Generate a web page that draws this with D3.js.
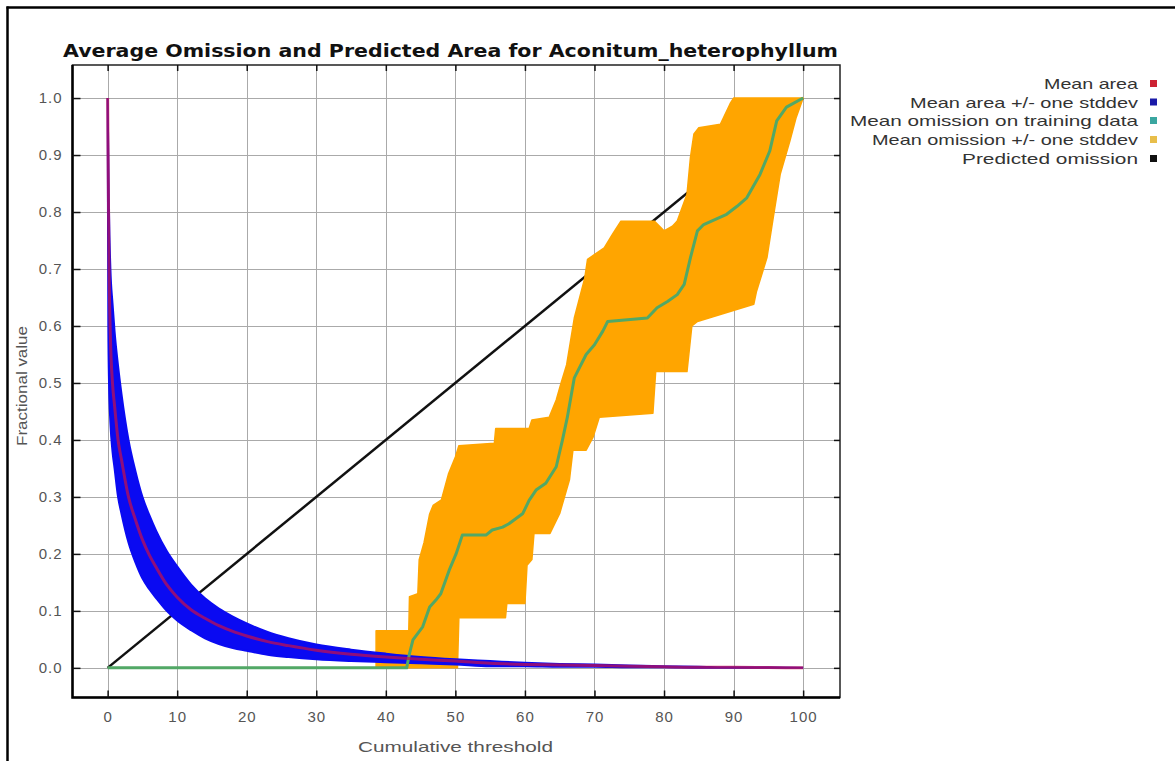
<!DOCTYPE html>
<html>
<head>
<meta charset="utf-8">
<script src="https://cdn.jsdelivr.net/npm/d3@7"></script>
<style>
  body { margin: 0; background: #fff; }
  svg { display: block; font-family: "Liberation Sans", Arial, sans-serif; }
</style>
</head>
<body>
<svg id="chart" width="1175" height="761"></svg>
<script>
// ---- chart text ----
const titleText = "Average Omission and Predicted Area for Aconitum_heterophyllum";
const xLabel = "Cumulative threshold";
const yLabel = "Fractional value";

// ---- tick values ----
const xTicks = [0, 10, 20, 30, 40, 50, 60, 70, 80, 90, 100];
const yTicks = [0, 0.1, 0.2, 0.3, 0.4, 0.5, 0.6, 0.7, 0.8, 0.9, 1.0];

// ---- mean predicted area and its +/- one stddev band ----
const areaX     = [0, 0.1, 0.2, 0.4, 0.7, 1, 1.5, 2, 3, 4, 5, 6, 7, 8.5, 10, 12, 14, 16, 18, 20, 23, 26, 30, 35, 40, 45, 50, 55, 60, 65, 70, 75, 80, 85, 90, 95, 100];
const areaMean  = [1.0, 0.85, 0.71, 0.58, 0.50, 0.46, 0.40, 0.365, 0.30, 0.26, 0.225, 0.198, 0.176, 0.146, 0.124, 0.102, 0.087, 0.074, 0.064, 0.056, 0.046, 0.039, 0.031, 0.024, 0.019, 0.015, 0.012, 0.008, 0.006, 0.005, 0.004, 0.003, 0.002, 0.001, 0.001, 0.0005, 0];
const areaUpper = [1.0, 0.90, 0.80, 0.70, 0.64, 0.59, 0.53, 0.48, 0.40, 0.345, 0.30, 0.268, 0.24, 0.205, 0.178, 0.146, 0.122, 0.104, 0.090, 0.078, 0.063, 0.052, 0.041, 0.032, 0.025, 0.019, 0.015, 0.012, 0.009, 0.007, 0.006, 0.004, 0.003, 0.002, 0.001, 0.001, 0];
const areaLower = [1.0, 0.60, 0.50, 0.43, 0.38, 0.35, 0.30, 0.27, 0.22, 0.185, 0.157, 0.138, 0.122, 0.10, 0.083, 0.066, 0.052, 0.042, 0.035, 0.030, 0.023, 0.019, 0.015, 0.012, 0.010, 0.008, 0.006, 0.003, 0.003, 0.002, 0.002, 0.001, 0.001, 0, 0, 0, 0];

// ---- mean omission on training data ----
const omissionX    = [0, 43.0, 43.4, 43.9, 45.3, 46.3, 47.2, 47.9, 49.1, 50.1, 51.0, 54.4, 55.3, 56.8, 57.7, 59.7, 60.6, 61.6, 63.0, 64.5, 65.4, 66.1, 67.1, 68.8, 70.0, 71.2, 71.9, 77.6, 79.0, 80.5, 81.9, 82.9, 83.8, 84.8, 85.7, 89.0, 90.5, 91.9, 93.8, 95.2, 96.2, 97.6, 100];
const omissionMean = [0, 0, 0.025, 0.049, 0.072, 0.107, 0.119, 0.13, 0.171, 0.20, 0.233, 0.233, 0.242, 0.247, 0.253, 0.271, 0.294, 0.312, 0.324, 0.353, 0.40, 0.44, 0.509, 0.55, 0.567, 0.591, 0.608, 0.614, 0.632, 0.643, 0.655, 0.673, 0.72, 0.767, 0.778, 0.796, 0.81, 0.825, 0.866, 0.907, 0.96, 0.984, 1.0];

// ---- mean omission +/- one stddev (upper and lower edges) ----
const omissionUpperX = [38.6, 43.3, 43.4, 44.6, 44.8, 45.5, 46.3, 46.8, 48.0, 49.0, 50.0, 50.5, 55.6, 55.8, 60.6, 61.0, 63.5, 64.5, 65.2, 66.0, 67.1, 68.6, 69.0, 71.4, 72.6, 73.8, 78.6, 80.0, 81.2, 81.9, 83.3, 83.8, 84.3, 85.0, 88.1, 89.5, 90.0, 100];
const omissionUpper  = [0.065, 0.065, 0.125, 0.13, 0.19, 0.22, 0.27, 0.285, 0.295, 0.34, 0.37, 0.39, 0.394, 0.42, 0.42, 0.435, 0.44, 0.47, 0.50, 0.532, 0.614, 0.684, 0.717, 0.737, 0.761, 0.784, 0.784, 0.767, 0.775, 0.784, 0.831, 0.896, 0.937, 0.948, 0.954, 0.99, 1.0, 1.0];
const omissionLowerX = [38.6, 50.3, 50.5, 57.2, 57.4, 60.0, 60.3, 61.0, 61.3, 63.6, 65.0, 66.4, 66.9, 68.8, 69.8, 70.7, 78.4, 78.8, 83.3, 84.0, 84.8, 92.9, 93.3, 94.8, 95.7, 96.7, 98.1, 99.0, 100];
const omissionLower  = [0, 0, 0.088, 0.088, 0.113, 0.113, 0.18, 0.19, 0.236, 0.236, 0.271, 0.33, 0.382, 0.382, 0.405, 0.44, 0.447, 0.52, 0.52, 0.60, 0.608, 0.638, 0.661, 0.72, 0.79, 0.866, 0.925, 0.966, 1.0];

// ---- predicted omission ----
const predictedX = [0, 100];
const predictedY = [0, 1];

// ---- legend ----
const legendLabels = ["Mean area", "Mean area +/- one stddev", "Mean omission on training data", "Mean omission +/- one stddev", "Predicted omission"];
const legendColors = ["#cc2233", "#1a1aa8", "#3aa6a0", "#e8be4a", "#111111"];

// ================= drawing =================
const svg = d3.select("#chart");
svg.append("rect").attr("width", 1175).attr("height", 761).attr("fill", "#fff");

// outer frame
svg.append("line").attr("x1", 7.5).attr("x2", 7.5).attr("y1", 6.5).attr("y2", 761)
  .attr("stroke", "#000").attr("stroke-width", 2.5);
svg.append("line").attr("x1", 6.5).attr("x2", 1175).attr("y1", 7.5).attr("y2", 7.5)
  .attr("stroke", "#000").attr("stroke-width", 2.5);

const plot = { left: 72.5, right: 840, top: 65, bottom: 697.5 };
const x = d3.scaleLinear().domain([-5.05, 105.3]).range([plot.left, plot.right]);
const y = d3.scaleLinear().domain([-0.052, 1.058]).range([plot.bottom, plot.top]);

// title
svg.append("text")
  .attr("x", 63).attr("y", 57)
  .attr("font-family", "'DejaVu Sans', sans-serif")
  .attr("font-weight", "bold").attr("font-size", 18)
  .attr("fill", "#111")
  .attr("textLength", 775).attr("lengthAdjust", "spacingAndGlyphs")
  .text(titleText);

// grid
const grid = svg.append("g").attr("stroke", "#aaaaaa").attr("stroke-width", 1);
grid.selectAll("line.gx").data(xTicks).join("line")
  .attr("x1", d => Math.round(x(d)) + 0.5).attr("x2", d => Math.round(x(d)) + 0.5)
  .attr("y1", plot.top).attr("y2", plot.bottom);
grid.selectAll("line.gy").data(yTicks).join("line")
  .attr("y1", d => Math.round(y(d)) + 0.5).attr("y2", d => Math.round(y(d)) + 0.5)
  .attr("x1", plot.left).attr("x2", plot.right);

svg.append("clipPath").attr("id", "plotClip").append("rect")
  .attr("x", plot.left).attr("y", plot.top)
  .attr("width", plot.right - plot.left).attr("height", plot.bottom - plot.top);
const layer = svg.append("g").attr("clip-path", "url(#plotClip)");

// predicted omission diagonal (drawn beneath the bands)
const lineXY = d3.line().x(d => x(d[0])).y(d => y(d[1]));
layer.append("path")
  .attr("d", lineXY(d3.zip(predictedX, predictedY)))
  .attr("fill", "none").attr("stroke", "#111").attr("stroke-width", 2.5);

// omission +/- stddev band
const omBandPts = d3.zip(omissionUpperX, omissionUpper)
  .concat(d3.zip(omissionLowerX, omissionLower).reverse());
layer.append("path")
  .attr("d", lineXY(omBandPts) + "Z")
  .attr("fill", "#ffa500").attr("stroke", "#ffa500").attr("stroke-width", 1.5)
  .attr("stroke-linejoin", "round");

// area +/- stddev band
const areaBand = d3.area()
  .x(d => x(d.t)).y0(d => y(d.lo)).y1(d => y(d.hi))
  .curve(d3.curveMonotoneX);
const areaRows = areaX.map((t, i) => ({ t, lo: areaLower[i], hi: areaUpper[i], m: areaMean[i] }));
layer.append("path")
  .attr("d", areaBand(areaRows))
  .attr("fill", "#0a0af2").attr("stroke", "#0a0af2").attr("stroke-width", 2);

// mean omission on training data
layer.append("path")
  .attr("d", lineXY(d3.zip(omissionX, omissionMean)))
  .attr("fill", "none").attr("stroke", "#52a866").attr("stroke-width", 3)
  .attr("stroke-linejoin", "round");

// mean area
const meanLine = d3.line().x(d => x(d.t)).y(d => y(d.m)).curve(d3.curveMonotoneX);
layer.append("path")
  .attr("d", meanLine(areaRows))
  .attr("fill", "none").attr("stroke", "#c4104c").attr("stroke-opacity", 0.72)
  .attr("stroke-width", 3);

// plot frame
svg.append("rect")
  .attr("x", plot.left).attr("y", plot.top)
  .attr("width", plot.right - plot.left).attr("height", plot.bottom - plot.top)
  .attr("fill", "none").attr("stroke", "#222").attr("stroke-width", 1.5);
svg.append("path")
  .attr("d", `M${plot.left},${plot.top}V${plot.bottom}H${plot.right}`)
  .attr("fill", "none").attr("stroke", "#000").attr("stroke-width", 2.5);

// axes (ticks point inward)
function styleAxis(g) {
  g.select(".domain").remove();
  g.selectAll(".tick line").attr("stroke", "#111").attr("stroke-width", 1.5);
  g.selectAll(".tick text").attr("fill", "#555").style("letter-spacing", "1px");
  g.attr("font-family", "'Liberation Sans', Arial, sans-serif").attr("font-size", 15);
}
svg.append("g").attr("transform", `translate(0,${plot.bottom})`)
  .call(d3.axisBottom(x).tickValues(xTicks).tickSize(-7).tickPadding(14).tickFormat(d3.format("d")))
  .call(styleAxis);
svg.append("g").attr("transform", `translate(${plot.left},0)`)
  .call(d3.axisLeft(y).tickValues(yTicks).tickSize(-8).tickPadding(10).tickFormat(d3.format(".1f")))
  .call(styleAxis);
svg.append("g").attr("transform", `translate(0,${plot.top})`)
  .call(d3.axisTop(x).tickValues(xTicks).tickSize(-6).tickFormat(() => ""))
  .call(styleAxis);
svg.append("g").attr("transform", `translate(${plot.right},0)`)
  .call(d3.axisRight(y).tickValues(yTicks).tickSize(-6).tickFormat(() => ""))
  .call(styleAxis);

// axis titles
svg.append("text")
  .attr("x", 455.5).attr("y", 752)
  .attr("text-anchor", "middle").attr("font-size", 15).attr("fill", "#555")
  .attr("textLength", 195).attr("lengthAdjust", "spacingAndGlyphs")
  .text(xLabel);
svg.append("text")
  .attr("transform", "translate(27,386) rotate(-90)")
  .attr("text-anchor", "middle").attr("font-size", 15).attr("fill", "#555")
  .attr("textLength", 120).attr("lengthAdjust", "spacingAndGlyphs")
  .text(yLabel);

// legend
const legendY = [84, 102.5, 121, 140, 159];
const legendW = [94, 228, 288, 266, 176];
const legend = svg.append("g");
legendLabels.forEach((label, i) => {
  legend.append("text")
    .attr("x", 1138).attr("y", legendY[i] + 5)
    .attr("text-anchor", "end").attr("font-size", 15).attr("fill", "#333")
    .attr("textLength", legendW[i]).attr("lengthAdjust", "spacingAndGlyphs")
    .text(label);
  legend.append("rect")
    .attr("x", 1150).attr("y", legendY[i] - 4)
    .attr("width", 7).attr("height", 7)
    .attr("fill", legendColors[i]);
});
</script>
</body>
</html>
